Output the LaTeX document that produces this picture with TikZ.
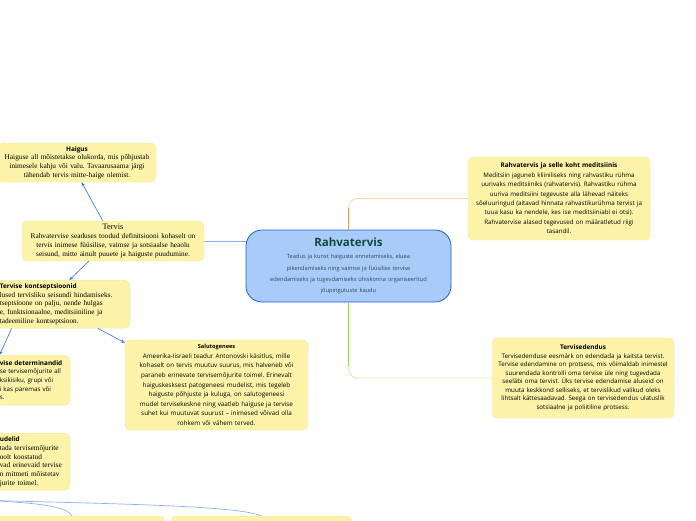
\documentclass[tikz,border=0pt]{standalone}
\usepackage{fontspec}
\setmainfont{Liberation Serif}
\setsansfont{Open Sans}
\usetikzlibrary{arrows.meta}
\frenchspacing

\definecolor{notefill}{HTML}{FCF3A9}
\definecolor{notedraw}{HTML}{F3E79A}
\definecolor{hubfill}{HTML}{A8CBFA}
\definecolor{hubdraw}{HTML}{1C5FD8}
\definecolor{hubtitle}{HTML}{0D4A3C}
\definecolor{hubtext}{HTML}{2F4B5C}
\definecolor{linkblue}{HTML}{2E6CF2}
\definecolor{paleblue}{HTML}{8DB0F2}
\definecolor{orangedark}{HTML}{FF9A1A}
\definecolor{orangepale}{HTML}{FFD9A3}
\definecolor{greendark}{HTML}{86E81E}
\definecolor{greenpale}{HTML}{CDF5A8}

\newcommand{\notetitle}[1]{{\sffamily\bfseries\fontsize{6.4}{8}\selectfont #1}}

\begin{document}
\begin{tikzpicture}[x=1pt, y=-1pt,
  note/.style={draw=notedraw, fill=notefill, rounded corners=5pt, inner sep=3pt, text=black},
  serifnote/.style={note, font=\fontsize{7.3}{8.7}\selectfont},
  sansnote/.style={note, font=\sffamily\fontsize{6.2}{9.4}\selectfont},
  hub/.style={draw=hubdraw, fill=hubfill, line width=0.8pt, rounded corners=16pt, minimum width=205pt, minimum height=72pt, text width=195pt, align=center, text=hubtext, font=\sffamily\fontsize{5.7}{11.3}\selectfont},
  arrow/.style={-{Stealth[length=4pt,width=3.2pt]}, linkblue, line width=0.6pt},
  soft/.style={paleblue, line width=0.7pt}
]
\useasboundingbox (0,0) rectangle (696,520);

% central topic
\node[hub] (hub) at (348.5,266) {{\bfseries\fontsize{11.5}{14}\selectfont\color{hubtitle}Rahvatervis}\\[1pt]
  Teadus ja kunst haiguste ennetamiseks, eluea\\ pikendamiseks ning vaimse ja füüsilise tervise\\ edendamiseks ja tugevdamiseks ühiskonna organiseeritud\\ jõupingutuste kaudu};

% right side
\node[sansnote, align=center, text width=176pt, minimum height=83pt] (koht) at (559,198.5) {\notetitle{Rahvatervis ja selle koht meditsiinis}\\
  Meditsiin jaguneb kliiniliseks ning rahvastiku rühma\\ uurivaks meditsiiniks (rahvatervis). Rahvastiku rühma\\ uuriva meditsiini tegevuste alla lähevad näiteks\\ sõeluuringud (aitavad hinnata rahvastikurühma tervist ja\\ tuua kasu ka nendele, kes ise meditsiiniabi ei otsi).\\ Rahvatervise alased tegevused on määratletud riigi\\ tasandil.};
\node[sansnote, font=\sffamily\fontsize{6.2}{8.5}\selectfont, align=center, text width=176pt, minimum height=80pt] (dendus) at (583,378) {\notetitle{Tervisedendus}\\
  Tervisedenduse eesmärk on edendada ja kaitsta tervist.\\ Tervise edendamine on protsess, mis võimaldab inimestel\\ suurendada kontrolli oma tervise üle ning tugevdada\\ seeläbi oma tervist. Üks tervise edendamise aluseid on\\ muuta keskkond selliseks, et tervislikud valikud oleks\\ lihtsalt kättesaadavad. Seega on tervisedendus ulatuslik\\ sotsiaalne ja poliitiline protsess.};

% left side
\node[serifnote, align=center, text width=176pt, minimum height=40pt] (tervis) at (113,241) {{\fontsize{8.3}{9}\selectfont Tervis}\\
  Rahvatervise seaduses toodud definitsiooni kohaselt on\\ tervis inimese füüsilise, vaimse ja sotsiaalse heaolu\\ seisund, mitte ainult puuete ja haiguste puudumine.};
\node[serifnote, align=center, text width=152pt, minimum height=39pt] (haigus) at (77,162.5) {\notetitle{Haigus}\\
  Haiguse all mõistetakse olukorda, mis põhjustab\\ inimesele kahju või valu. Tavaarusaama järgi\\ tähendab tervis mitte-haige olemist.};
\node[serifnote, align=left, text width=127pt, minimum height=48pt, anchor=north east] (konts) at (130,280) {\notetitle{Tervise kontseptsioonid}\\
  lused tervisliku seisundi hindamiseks.\\ tseptsioone on palju, nende hulgas\\ e, funktsionaalne, meditsiiniline ja\\ tadeemiline kontseptsioon.};
\node[sansnote, font=\sffamily\fontsize{6.2}{8.6}\selectfont, align=left, text width=67pt, minimum height=50pt, anchor=north east] (determ) at (70,355) {\notetitle{vise determinandid}\\
  se tervisemõjurite all\\ ksikisiku, grupi või\\ i kas paremas või\\ s.};
\node[sansnote, font=\sffamily\fontsize{6.3}{9.6}\selectfont, align=center, text width=177pt, minimum height=90pt] (saluto) at (216.5,385) {{\bfseries\fontsize{5.6}{8}\selectfont Salutogenees}\\
  Ameerika-Iisraeli teadur Antonovski käsitlus, mille\\ kohaselt on tervis muutuv suurus, mis halveneb või\\ paraneb erinevate tervisemõjurite toimel. Erinevalt\\ haiguskesksest patogeneesi mudelist, mis tegeleb\\ haiguste põhjuste ja kuluga, on salutogeneesi\\ mudel tervisekeskne ning vaatleb haiguse ja tervise\\ suhet kui muutuvat suurust – inimesed võivad olla\\ rohkem või vähem terved.};
\node[serifnote, align=left, text width=67pt, minimum height=57pt, anchor=north east] (mudel) at (70,433) {\notetitle{udelid}\\
  tada tervisemõjurite\\ oolt koostatud\\ vad erinevaid tervise\\ n mitmeti mõistetav\\ jurite toimel.};

% boxes cut off at the bottom
\node[note, minimum width=186pt, minimum height=24pt, anchor=north] (bot1) at (72,516) {};
\node[note, minimum width=181pt, minimum height=24pt, anchor=north] (bot2) at (261.5,516) {};
\coordinate (src) at (-30,500);

% connectors
\draw[orangepale, line width=0.9pt, rounded corners=9pt] (hub.north) |- (koht.west);
\draw[orangedark, line width=1.2pt] (hub.north) -- ([yshift=22pt]hub.north);
\draw[greenpale, line width=0.9pt, rounded corners=9pt] (hub.south) |- (dendus.west);
\draw[greendark, line width=1.2pt] (hub.south) -- ([yshift=-64pt]hub.south);
\draw[soft] (tervis.east) -- (tervis.east -| hub.west);
\draw[arrow] (tervis.117) -- (haigus.283);
\draw[arrow] (tervis.220) -- (konts.76);
\draw[arrow] ([xshift=15pt]konts.south west) -- ([xshift=3pt]determ.north west);
\draw[arrow] ([xshift=-32pt]konts.south east) -- ([yshift=-3pt]saluto.north west);
\draw[soft] (src) .. controls (40,502) and (68,507) .. (bot1.north);
\draw[soft] (src) .. controls (130,504) and (240,506) .. (bot2.north);
\end{tikzpicture}
\end{document}
